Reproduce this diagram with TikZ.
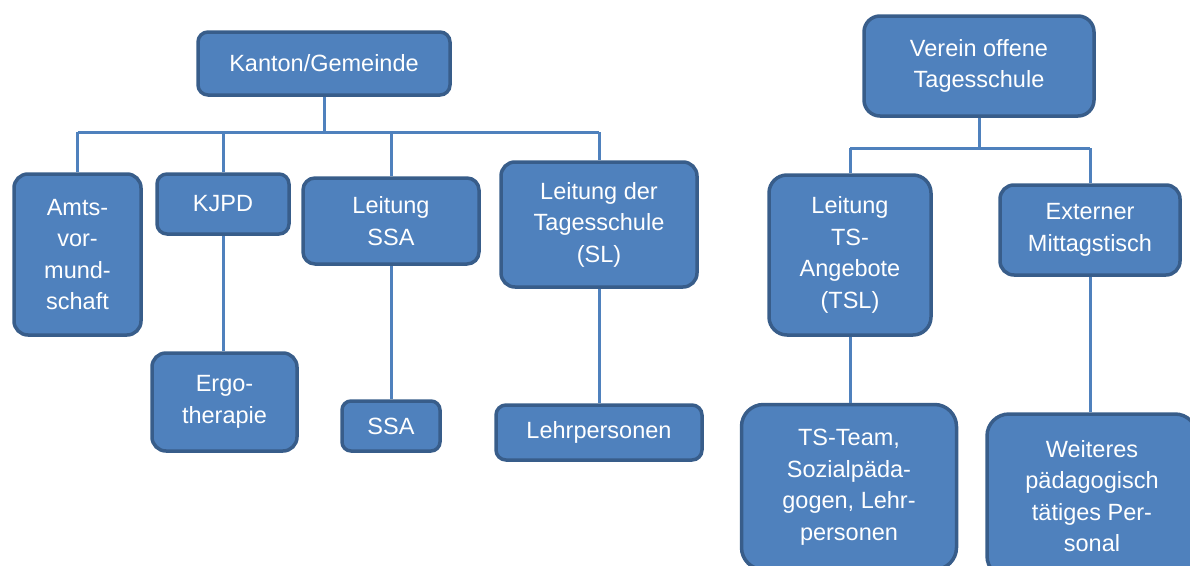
\documentclass[tikz,border=0pt]{standalone}
\usepackage{fontspec}
\setmainfont{Liberation Sans}
\definecolor{boxfill}{HTML}{4F81BD}
\definecolor{boxline}{HTML}{385D8A}
\begin{document}
\begin{tikzpicture}[x=1pt,y=-1pt,
  unit/.style={draw=boxline, fill=boxfill, line width=3.5pt, rounded corners=14pt,
    text=white, align=center, inner sep=0pt,
    font=\fontsize{23.5}{31.5}\selectfont},
  link/.style={draw=boxfill, line width=3pt}]
\useasboundingbox (0,0) rectangle (1190,565);
\clip (0,0) rectangle (1190,565);

% left organisation
\node[unit, minimum width=252pt, minimum height=63pt, rounded corners=10pt] (kg) at (324,63.5) {Kanton/Gemeinde};
\node[unit, minimum width=127pt, minimum height=161pt] (amts) at (77.5,254.5) {Amts-\\vor-\\mund-\\schaft};
\node[unit, minimum width=132pt, minimum height=60pt, rounded corners=10pt] (kjpd) at (223,204) {KJPD};
\node[unit, minimum width=176pt, minimum height=86pt, rounded corners=12pt] (lssa) at (391,221) {Leitung\\SSA};
\node[unit, minimum width=196pt, minimum height=125pt] (sl) at (599,224.5) {Leitung der\\Tagesschule\\(SL)};
\node[unit, minimum width=145pt, minimum height=98pt] (ergo) at (224.5,402) {Ergo-\\therapie};
\node[unit, minimum width=98pt, minimum height=50pt, rounded corners=9pt] (ssa) at (391,426) {SSA};
\node[unit, minimum width=206pt, minimum height=55pt, rounded corners=10pt] (lehr) at (599,432.5) {Lehrpersonen};

\coordinate (barL) at (0,132);
\draw[link] (amts.north |- barL) -- (sl.north |- barL);
\draw[link] (kg.south) -- (kg.south |- barL);
\foreach \n in {amts,kjpd,lssa,sl}
  \draw[link] (\n.north) -- (\n.north |- barL);
\draw[link] (kjpd.south) -- (kjpd.south |- ergo.north);
\draw[link] (lssa.south) -- (lssa.south |- ssa.north);
\draw[link] (sl.south) -- (sl.south |- lehr.north);

% right organisation
\node[unit, minimum width=230pt, minimum height=100pt, rounded corners=16pt] (verein) at (979,66) {Verein offene\\Tagesschule};
\node[unit, minimum width=162pt, minimum height=160pt, rounded corners=18pt] (tsl) at (850,255) {Leitung\\TS-\\Angebote\\(TSL)};
\node[unit, minimum width=180pt, minimum height=90pt, rounded corners=14pt] (ext) at (1090,230) {Externer\\Mittagstisch};
\node[unit, minimum width=215pt, minimum height=165pt, rounded corners=22pt] (team) at (849,487) {TS-Team,\\Sozialpäda-\\gogen, Lehr-\\personen};
\node[unit, minimum width=210pt, minimum height=164pt, rounded corners=22pt] (weit) at (1092,496) {Weiteres\\pädagogisch\\tätiges Per-\\sonal};

\coordinate (barR) at (0,148);
\draw[link] (tsl.north |- barR) -- (ext.north |- barR);
\draw[link] (verein.south) -- (verein.south |- barR);
\draw[link] (tsl.north) -- (tsl.north |- barR);
\draw[link] (ext.north) -- (ext.north |- barR);
\draw[link] (tsl.south) -- (tsl.south |- team.north);
\draw[link] (ext.south) -- (ext.south |- weit.north);
\end{tikzpicture}
\end{document}
